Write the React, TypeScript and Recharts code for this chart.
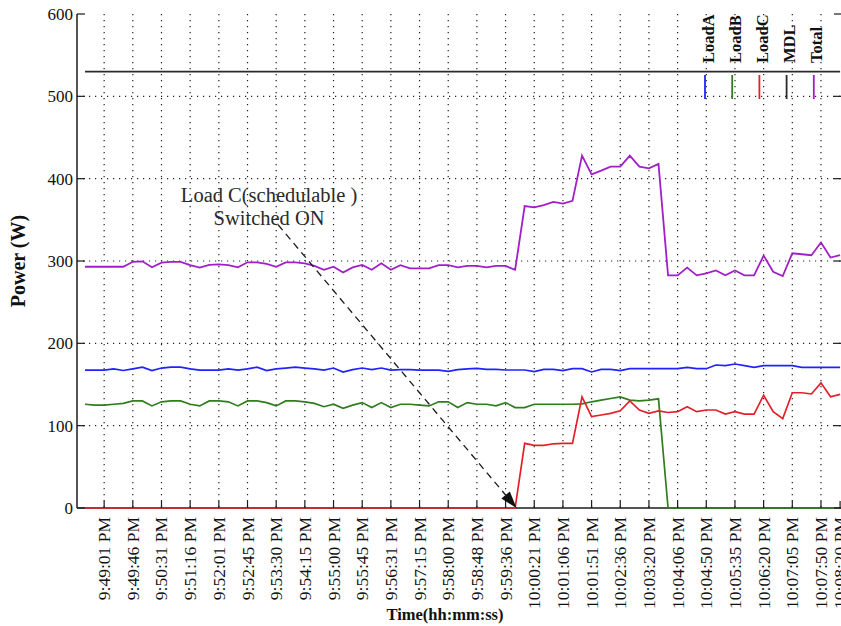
import React from 'react';
import { LineChart, Line, XAxis, YAxis, CartesianGrid, ReferenceLine, Legend, Label } from 'recharts';

// sample number (one sample every ~15 s)
const sampleIndex = [
  0, 1, 2, 3, 4, 5, 6, 7, 8, 9, 10, 11, 12, 13, 14, 15, 16, 17, 18, 19,
  20, 21, 22, 23, 24, 25, 26, 27, 28, 29, 30, 31, 32, 33, 34, 35, 36, 37, 38, 39,
  40, 41, 42, 43, 44, 45, 46, 47, 48, 49, 50, 51, 52, 53, 54, 55, 56, 57, 58, 59,
  60, 61, 62, 63, 64, 65, 66, 67, 68, 69, 70, 71, 72, 73, 74, 75, 76, 77, 78, 79,
];

const loadA = [
  167.5, 167.5, 167.5, 169, 167, 169, 171, 167, 170, 171,
  171, 169, 167.5, 167.5, 167.5, 169, 167.5, 169, 171, 167,
  169, 170, 171, 170, 169, 167.5, 170, 165, 168, 170,
  168, 170, 167.5, 168, 168, 167.5, 167.5, 167.5, 166, 168,
  169, 169.6, 168.4, 168.4, 167.6, 167.6, 167.6, 165.6, 168.4, 168.4,
  166.8, 169.2, 169.2, 165.2, 168.4, 168.4, 166.8, 169.2, 169.2, 169.2,
  169.2, 169.2, 169.2, 170.9, 169.2, 169.2, 173.7, 173, 174.9, 173,
  170.9, 172.9, 172.9, 172.9, 172.9, 170.9, 170.9, 170.9, 170.9, 170.9,
];

const loadB = [
  126, 125, 125, 126, 127, 130, 130, 124, 129, 130,
  130, 126, 124, 130, 130, 129, 124, 130, 130, 128,
  124, 130, 130, 129, 127, 123, 126, 121, 125, 128,
  122, 128, 122, 126, 126, 125, 124, 129, 129, 122,
  128, 126, 126, 124, 128, 122, 122, 126, 126, 126,
  126, 126, 126.5, 129, 131, 133, 135, 131, 130, 131,
  132.6, 0, 0, 0, 0, 0, 0, 0, 0, 0,
  0, 0, 0, 0, 0, 0, 0, 0, 0, 0,
];

const loadC = [
  0, 0, 0, 0, 0, 0, 0, 0, 0, 0,
  0, 0, 0, 0, 0, 0, 0, 0, 0, 0,
  0, 0, 0, 0, 0, 0, 0, 0, 0, 0,
  0, 0, 0, 0, 0, 0, 0, 0, 0, 0,
  0, 0, 0, 0, 0, 0, 78.5, 76, 76, 78,
  78.5, 78.5, 135, 111, 113, 115, 118, 130, 119, 115,
  118, 116, 117, 123, 117, 119, 119, 114, 117, 114,
  114, 137, 117, 108.5, 140, 140, 138.5, 152, 135, 138,
];

const totalLoad = [
  293, 293, 293, 293, 293, 299, 299.6, 292.3, 298, 299,
  299, 295, 292, 295.3, 296, 295, 292.3, 298.4, 298.4, 296.4,
  293, 298.4, 298.4, 297.2, 294, 289.3, 293, 286, 292.3, 295.3,
  289.3, 297.2, 289.3, 295, 291, 291, 291, 295, 295, 292.3,
  294, 294, 292.3, 294, 294, 289.3, 366.8, 365.2, 368, 371.7,
  369.7, 373, 428, 405.3, 409.8, 414.6, 414.6, 428, 414.6, 412.6,
  417.9, 282.6, 282.6, 292, 282.6, 285, 288.5, 282.6, 288.5, 282.6,
  282.6, 306.5, 287, 281.8, 309.4, 308.2, 307, 322.4, 304.2, 307,
];

const mdlLimit = 530;

const tickSamples = [2, 5, 8, 11, 14, 17, 20, 23, 26, 29, 32, 35, 38, 41, 44, 47, 50, 53, 56, 59, 62, 65, 68, 71, 74, 77, 79];
const tickLabels = [
  '9:49:01 PM', '9:49:46 PM', '9:50:31 PM', '9:51:16 PM', '9:52:01 PM', '9:52:45 PM', '9:53:30 PM',
  '9:54:15 PM', '9:55:00 PM', '9:55:45 PM', '9:56:31 PM', '9:57:15 PM', '9:58:00 PM', '9:58:48 PM',
  '9:59:36 PM', '10:00:21 PM', '10:01:06 PM', '10:01:51 PM', '10:02:36 PM', '10:03:20 PM',
  '10:04:06 PM', '10:04:50 PM', '10:05:35 PM', '10:06:20 PM', '10:07:05 PM', '10:07:50 PM', '10:08:20 PM',
];
const gridSamples = [2, 5, 8, 11, 14, 17, 20, 23, 26, 29, 32, 35, 38, 41, 44, 47, 50, 53, 56, 59, 62, 65, 68, 71, 74, 77];
const yTicks = [0, 100, 200, 300, 400, 500, 600];
const yGrid = [100, 200, 300, 400, 500];
const xDomain = [-0.84, 79.2];

const arrowFrom = { x: 20.2, y: 344 };
const arrowTo = { x: 45.15, y: 0 };
const annotationLines = ['Load C(schedulable )', 'Switched ON'];

const data = sampleIndex.map((i) => ({
  i,
  a: loadA[i],
  b: loadB[i],
  c: loadC[i],
  mdl: mdlLimit,
  total: totalLoad[i],
}));

const FONT = '"Liberation Serif", "Times New Roman", Times, serif';
const AXIS = '#1c1c1c';

const BottomTick = (props: any) => {
  const { x, y, payload } = props;
  const idx = tickSamples.indexOf(payload.value);
  const label = idx >= 0 ? tickLabels[idx] : '';
  return (
    <g>
      <line x1={x} y1={y} x2={x} y2={y - 7} stroke={AXIS} strokeWidth={1.2} />
      <text
        transform={`translate(${x + 6},${y + 9}) rotate(-90)`}
        textAnchor="end"
        fontFamily={FONT}
        fontSize={17.5}
        fill="#111"
      >
        {label}
      </text>
    </g>
  );
};

const TopTick = (props: any) => {
  const { x, y } = props;
  return <line x1={x} y1={y} x2={x} y2={y + 7} stroke={AXIS} strokeWidth={1.2} />;
};

const LeftTick = (props: any) => {
  const { x, y, payload } = props;
  return (
    <g>
      <line x1={x} y1={y} x2={x + 8} y2={y} stroke={AXIS} strokeWidth={1.2} />
      <text x={x - 4} y={y} dy="0.35em" textAnchor="end" fontFamily={FONT} fontSize={17} fill="#111">
        {payload.value}
      </text>
    </g>
  );
};

const RightTick = (props: any) => {
  const { x, y } = props;
  return <line x1={x} y1={y} x2={x - 8} y2={y} stroke={AXIS} strokeWidth={1.2} />;
};

const YTitle = (props: any) => {
  const vb = props.viewBox || { x: 0, y: 14, width: 77, height: 494 };
  const cx = vb.x + 25;
  const cy = vb.y + vb.height / 2;
  return (
    <text
      transform={`translate(${cx},${cy}) rotate(-90)`}
      textAnchor="middle"
      fontFamily={FONT}
      fontWeight="bold"
      fontSize={20}
      fill="#111"
    >
      Power (W)
    </text>
  );
};

const XTitle = (props: any) => {
  const vb = props.viewBox || { x: 77, y: 508, width: 765, height: 118 };
  return (
    <text x={vb.x + 368} y={vb.y + 112} textAnchor="middle" fontFamily={FONT} fontWeight="bold" fontSize={16.5} fill="#111">
      Time(hh:mm:ss)
    </text>
  );
};

const ArrowShape = (p: any) => {
  const { x1, y1, x2, y2 } = p;
  const dx = x2 - x1;
  const dy = y2 - y1;
  const len = Math.hypot(dx, dy) || 1;
  const ux = dx / len;
  const uy = dy / len;
  const head = 17;
  const half = 5.5;
  const bx = x2 - ux * head;
  const by = y2 - uy * head;
  return (
    <g>
      <text x={x1 - 9} y={y1 - 23} textAnchor="middle" fontFamily={FONT} fontSize={20.5} fill="#2a2a2a">
        {annotationLines[0]}
      </text>
      <text x={x1 - 9} y={y1} textAnchor="middle" fontFamily={FONT} fontSize={20.5} fill="#2a2a2a">
        {annotationLines[1]}
      </text>
      <line x1={x1} y1={y1} x2={bx} y2={by} stroke="#1a1a1a" strokeWidth={1.3} strokeDasharray="7 5" />
      <polygon
        points={`${x2},${y2} ${bx - uy * half},${by + ux * half} ${bx + uy * half},${by - ux * half}`}
        fill="#111"
      />
    </g>
  );
};

const renderLegend = (props: any) => {
  const payload = props.payload || [];
  return (
    <svg width={150} height={105} style={{ display: 'block', overflow: 'visible' }}>
      {payload.map((entry: any, k: number) => {
        const bx = 23.5 + 27.2 * k;
        return (
          <g key={entry.value}>
            <text
              transform={`translate(${bx},63) rotate(-90)`}
              textAnchor="start"
              fontFamily={FONT}
              fontWeight="bold"
              fontSize={16.5}
              fill="#111"
            >
              {entry.value}
            </text>
            <line x1={bx - 8.5} y1={75} x2={bx - 8.5} y2={99} stroke={entry.color} strokeWidth={1.8} />
          </g>
        );
      })}
    </svg>
  );
};

export default function App() {
  return (
    <div
      style={{
        position: 'absolute',
        left: 0,
        top: 0,
        width: 841,
        height: 626,
        overflow: 'hidden',
        background: '#fff',
      }}
    >
      <LineChart width={850} height={626} data={data} margin={{ top: 14, right: 0, bottom: 0, left: 0 }}>
        <CartesianGrid
          stroke="#222"
          strokeWidth={1.2}
          strokeDasharray="1.2 4.8"
          verticalValues={gridSamples}
          horizontalValues={yGrid}
        />
        <XAxis
          dataKey="i"
          type="number"
          domain={xDomain}
          ticks={tickSamples}
          interval={0}
          height={118}
          tickSize={0}
          tickMargin={0}
          tickLine={false}
          tick={<BottomTick />}
          axisLine={{ stroke: AXIS, strokeWidth: 1.5 }}
        >
          <Label content={<XTitle />} />
        </XAxis>
        <XAxis
          xAxisId="top"
          orientation="top"
          type="number"
          domain={xDomain}
          allowDataOverflow
          ticks={gridSamples}
          interval={0}
          height={0}
          tickSize={0}
          tickMargin={0}
          tickLine={false}
          tick={<TopTick />}
          axisLine={{ stroke: AXIS, strokeWidth: 1.5 }}
        />
        <YAxis
          type="number"
          domain={[0, 600]}
          ticks={yTicks}
          interval={0}
          width={77}
          tickSize={0}
          tickMargin={0}
          tickLine={false}
          tick={<LeftTick />}
          axisLine={{ stroke: AXIS, strokeWidth: 1.5 }}
        >
          <Label content={<YTitle />} />
        </YAxis>
        <YAxis
          yAxisId="right"
          orientation="right"
          type="number"
          domain={[0, 600]}
          allowDataOverflow
          ticks={yTicks}
          interval={0}
          width={8}
          tickSize={0}
          tickMargin={0}
          tickLine={false}
          tick={<RightTick />}
          axisLine={{ stroke: AXIS, strokeWidth: 1.5 }}
        />
        <Legend
          layout="horizontal"
          align="center"
          verticalAlign="middle"
          content={renderLegend}
          wrapperStyle={{ position: 'absolute', left: 690, top: 0, width: 150, height: 105 }}
        />
        <Line name="LoadA" dataKey="a" stroke="#2222ff" strokeWidth={1.7} dot={false} activeDot={false} isAnimationActive={false} zIndex={600} />
        <Line name="LoadB" dataKey="b" stroke="#2f7d1c" strokeWidth={1.7} dot={false} activeDot={false} isAnimationActive={false} zIndex={600} />
        <Line name="LoadC" dataKey="c" stroke="#e3202a" strokeWidth={1.7} dot={false} activeDot={false} isAnimationActive={false} zIndex={600} />
        <Line name="MDL" dataKey="mdl" stroke="#2a2a2a" strokeWidth={1.6} dot={false} activeDot={false} isAnimationActive={false} zIndex={600} />
        <Line name="Total" dataKey="total" stroke="#a21ec9" strokeWidth={1.8} dot={false} activeDot={false} isAnimationActive={false} zIndex={600} />
        <ReferenceLine segment={[arrowFrom, arrowTo]} shape={ArrowShape} ifOverflow="visible" zIndex={700} />
      </LineChart>
    </div>
  );
}
